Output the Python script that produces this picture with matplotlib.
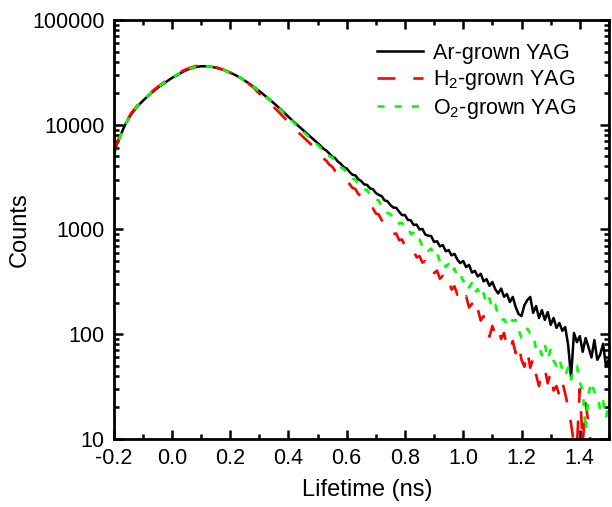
import matplotlib
matplotlib.use("Agg")
import matplotlib.pyplot as plt
from matplotlib.ticker import MultipleLocator, LogLocator, NullFormatter

# time channels: 0.02 ns steps over the peak, 0.01 ns steps over the tail
time_ns = [round(-0.2 + 0.02 * i, 2) for i in range(36)] + \
          [round(0.51 + 0.01 * i, 2) for i in range(100)]

ar_counts = [
    5370, 7470, 10050, 12520, 14770, 16850, 19020, 21230, 23440, 25600,
    27940, 30050, 32240, 34060, 35430, 36140, 36140, 35590, 34510, 33100,
    31470, 29590, 27520, 25310, 23130, 21000, 18900, 17000, 15200, 13470,
    11910, 10570, 9430, 8410, 7505, 6695,
    6322, 5906, 5677, 5325, 4965, 4804, 4449, 4238, 3933, 3831,
    3546, 3329, 3285, 3021, 2904, 2695, 2666, 2469, 2425, 2231,
    2140, 2088, 1896, 1863, 1713, 1619, 1612, 1479, 1372, 1375,
    1235, 1224, 1104, 1114, 1000, 1013, 894, 873, 865, 760,
    773, 690, 710, 619, 637, 566, 586, 515, 478, 500,
    437, 459, 388, 403, 356, 378, 320, 336, 290, 315,
    269, 245, 273, 228, 242, 203, 227, 182, 156, 149,
    190, 212, 227, 160, 186, 143, 170, 137, 163, 123,
    143, 115, 128, 108, 117, 79, 39, 103, 84, 96,
    68, 92, 75, 60, 88, 57, 64, 81, 49, 58,
]

h2_counts = [
    5494, 7638, 10280, 12800, 15100, 17230, 19440, 21700, 23960, 26160,
    28570, 30720, 32950, 34810, 36220, 36860, 36780, 35970, 34810, 33320,
    31470, 29590, 27520, 25150, 22670, 19870, 17610, 15610, 13830, 12120,
    10620, 9310, 8157, 7229, 6405, 5615,
    5256, 4761, 4546, 4165, 3994, 3633, 3492, 3212, 3144, 2841,
    2719, 2490, 2436, 2172, 2088, 1904, 1854, 1636, 1594, 1421,
    1393, 1224, 1187, 1042, 1033, 906, 915, 793, 802, 696,
    702, 614, 626, 541, 558, 483, 498, 431, 454, 384,
    405, 339, 361, 299, 322, 267, 287, 238, 256, 212,
    231, 180, 196, 153, 174, 135, 149, 108, 95, 120,
    100, 115, 90, 103, 77, 70, 86, 66, 81, 57,
    49, 69, 48, 59, 41, 32, 43, 47, 34, 43,
    29, 32, 26, 35, 27, 20, 14, 9, 8.5, 30,
    9, 22, 14, 8, 6, 7, 5, 6, 7, 5,
]

o2_counts = [
    5030, 7309, 10050, 12660, 14930, 17040, 19220, 21470, 23700, 25870,
    28250, 30380, 32600, 34360, 35590, 36220, 36140, 35590, 34510, 33100,
    31470, 29590, 27520, 25250, 23030, 20860, 18770, 16850, 15030, 13290,
    11730, 10390, 9187, 8121, 7213, 6405,
    6050, 5615, 5457, 5030, 4878, 4447, 4294, 3915, 3805, 3477,
    3372, 3061, 2995, 2706, 2630, 2404, 2383, 2149, 2130, 1934,
    1896, 1665, 1614, 1433, 1405, 1268, 1276, 1138, 1158, 1033,
    1045, 906, 926, 785, 802, 697, 722, 627, 657, 558,
    589, 498, 525, 439, 468, 393, 424, 356, 376, 319,
    337, 279, 308, 250, 270, 224, 246, 195, 220, 174,
    191, 151, 136, 139, 125, 143, 134, 137, 110, 92,
    95, 113, 102, 101, 71, 76, 63, 80, 58, 71,
    56, 50, 58, 46, 40, 48, 37, 48, 50, 35,
    29, 12, 27, 35, 28, 27, 19, 23, 16, 22,
]

labels = ["Ar-grown YAG", "H$_2$-grown YAG", "O$_2$-grown YAG"]
y_ticks = [10, 100, 1000, 10000, 100000]

plt.rcParams["font.family"] = ["Liberation Sans", "DejaVu Sans"]
plt.rcParams["mathtext.default"] = "regular"

fig = plt.figure(figsize=(6.12, 5.07), dpi=100)
ax = fig.add_axes([0.1855, 0.1341, 0.8095, 0.8265])

ax.plot(time_ns, ar_counts, color="black", lw=1.8, label=labels[0])
ax.plot(time_ns, h2_counts, color="#ff0000", lw=1.9, dashes=(6.8, 6.8), label=labels[1])
ax.plot(time_ns, o2_counts, color="#00ff00", lw=1.9, dashes=(2.7, 3.8), label=labels[2])

ax.set_yscale("log")
ax.set_xlim(-0.2, 1.5)
ax.set_ylim(10, 100000)
ax.set_yticks(y_ticks)
ax.set_yticklabels([str(v) for v in y_ticks])
ax.yaxis.set_minor_locator(LogLocator(base=10, subs=range(2, 10)))
ax.yaxis.set_minor_formatter(NullFormatter())
ax.xaxis.set_major_locator(MultipleLocator(0.2))
ax.xaxis.set_minor_locator(MultipleLocator(0.1))
ax.xaxis.set_major_formatter(plt.FuncFormatter(lambda v, p: f"{v:.1f}"))

for s in ax.spines.values():
    s.set_linewidth(2)
ax.tick_params(which="both", direction="in", top=True, right=True, width=1.8,
               labelsize=15.5)
ax.tick_params(which="major", length=6.5, pad=6.5)
ax.tick_params(which="minor", length=3.8)

ax.set_xlabel("Lifetime (ns)", fontsize=17, labelpad=10)
ax.xaxis.set_label_coords(0.512, -0.095)
ax.set_ylabel("Counts", fontsize=17, labelpad=1)

ax.legend(loc="upper right", bbox_to_anchor=(0.935, 0.945), frameon=False,
          fontsize=15.5, handlelength=2.1, handletextpad=0.5,
          labelspacing=0.2, borderpad=0, borderaxespad=0)

fig.savefig("out.png", dpi=100)
